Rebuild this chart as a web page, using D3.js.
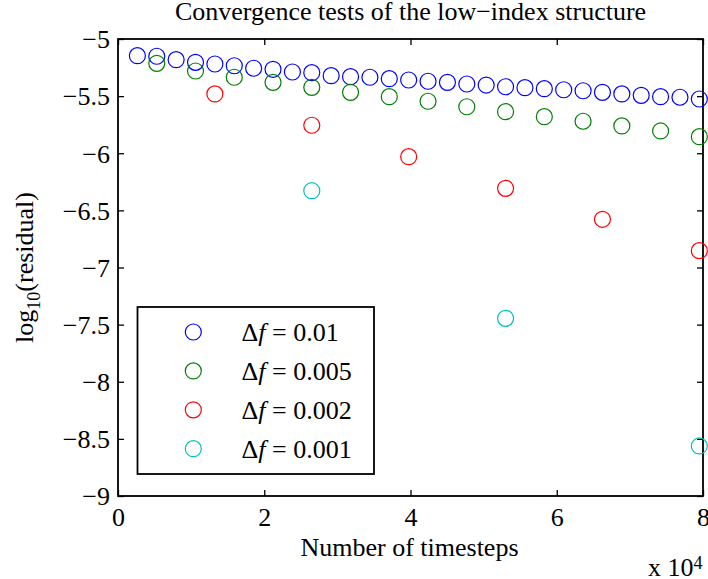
<!DOCTYPE html>
<html>
<head>
<meta charset="utf-8">
<script src="https://cdn.jsdelivr.net/npm/d3@7"></script>
<style>
  html, body { margin: 0; padding: 0; background: #fff; }
  svg { display: block; font-family: "Liberation Serif", "Times New Roman", serif; }
</style>
</head>
<body>
<svg id="chart" width="708" height="579"></svg>
<script>
// ---- data ----
const blueX = [2650, 5300, 7950, 10600, 13250, 15900, 18550, 21200, 23850, 26500,
  29150, 31800, 34450, 37100, 39750, 42400, 45050, 47700, 50350, 53000,
  55650, 58300, 60950, 63600, 66250, 68900, 71550, 74200, 76850, 79500];
const blueY = [-5.146, -5.151, -5.181, -5.204, -5.219, -5.234, -5.256, -5.265, -5.289, -5.295,
  -5.321, -5.330, -5.335, -5.347, -5.359, -5.370, -5.379, -5.394, -5.403, -5.418,
  -5.426, -5.435, -5.444, -5.453, -5.467, -5.481, -5.493, -5.505, -5.510, -5.525];
const greenX = [5300, 10600, 15900, 21200, 26500, 31800, 37100, 42400, 47700, 53000,
  58300, 63600, 68900, 74200, 79500];
const greenY = [-5.213, -5.280, -5.335, -5.379, -5.423, -5.467, -5.505, -5.545, -5.593, -5.636,
  -5.680, -5.720, -5.761, -5.805, -5.855];
const redX = [13250, 26500, 39750, 53000, 66250, 79500];
const redY = [-5.481, -5.755, -6.030, -6.307, -6.578, -6.853];
const cyanX = [26500, 53000, 79500];
const cyanY = [-6.328, -7.445, -8.562];

const seriesNames = ["0.01", "0.005", "0.002", "0.001"];
const seriesColors = ["#0000ff", "#008000", "#ff0000", "#00bfbf"];
const xTicks = [0, 20000, 40000, 60000, 80000];
const xTickLabels = ["0", "2", "4", "6", "8"];
const yTicks = [-9, -8.5, -8, -7.5, -7, -6.5, -6, -5.5, -5];
const yTickLabels = ["\u22129", "\u22128.5", "\u22128", "\u22127.5", "\u22127", "\u22126.5", "\u22126", "\u22125.5", "\u22125"];
const titleText = "Convergence tests of the low\u2212index structure";
const xLabelText = "Number of timesteps";

// ---- layout ----
const L = 118, R = 703, T = 39, B = 496;
const FS = 26;
const svg = d3.select("#chart");
const x = d3.scaleLinear().domain([0, 80000]).range([L, R]);
const y = d3.scaleLinear().domain([-9, -5]).range([B, T]);

const series = [
  {xs: blueX, ys: blueY},
  {xs: greenX, ys: greenY},
  {xs: redX, ys: redY},
  {xs: cyanX, ys: cyanY}
].map((s, i) => ({name: seriesNames[i], color: seriesColors[i],
  pts: s.xs.map((v, j) => [v, s.ys[j]])}));

// white background of axes
svg.append("rect").attr("x", L).attr("y", T).attr("width", R - L).attr("height", B - T)
  .attr("fill", "#fff");

// axes
function styleAxis(g) {
  g.select(".domain").remove();
  g.selectAll(".tick line").attr("stroke", "#000").attr("stroke-width", 1.3);
  g.selectAll("text").attr("font-size", FS).attr("font-family", "Liberation Serif").attr("fill", "#000");
}
const xFmt = (d, i) => xTickLabels[xTicks.indexOf(d)];
const yFmt = d => yTickLabels[yTicks.indexOf(d)];

const gxb = svg.append("g").attr("transform", `translate(0,${B})`)
  .call(d3.axisBottom(x).tickValues(xTicks).tickFormat(xFmt).tickSize(-6));
styleAxis(gxb);
gxb.selectAll("text").attr("y", 30).attr("dy", 0);

const gxt = svg.append("g").attr("transform", `translate(0,${T})`)
  .call(d3.axisTop(x).tickValues(xTicks).tickFormat("").tickSize(-6));
styleAxis(gxt);

const gyl = svg.append("g").attr("transform", `translate(${L},0)`)
  .call(d3.axisLeft(y).tickValues(yTicks).tickFormat(yFmt).tickSize(-6).tickPadding(8));
styleAxis(gyl);
gyl.selectAll("text").attr("x", -8).attr("dy", "0.34em");

const gyr = svg.append("g").attr("transform", `translate(${R},0)`)
  .call(d3.axisRight(y).tickValues(yTicks).tickFormat("").tickSize(-6));
styleAxis(gyr);

// box
svg.append("rect").attr("x", L).attr("y", T).attr("width", R - L).attr("height", B - T)
  .attr("fill", "none").attr("stroke", "#000").attr("stroke-width", 1.8);

// markers
series.forEach(s => {
  svg.append("g").selectAll("circle").data(s.pts).join("circle")
    .attr("cx", d => x(d[0])).attr("cy", d => y(d[1])).attr("r", 8)
    .attr("fill", "none").attr("stroke", s.color).attr("stroke-width", 1.2);
});

// title
svg.append("text").attr("x", (L + R) / 2).attr("y", 19.5).attr("text-anchor", "middle")
  .attr("font-size", FS).attr("fill", "#000").text(titleText);

// x label
svg.append("text").attr("x", 409.5).attr("y", 556).attr("text-anchor", "middle")
  .attr("font-size", FS).attr("fill", "#000").text(xLabelText);

// x exponent
const ex = svg.append("text").attr("x", 648).attr("y", 576).attr("font-size", FS).attr("fill", "#000");
ex.append("tspan").text("x 10");
ex.append("tspan").attr("font-size", 18).attr("dy", -7).text("4");

// y label
const yl = svg.append("text").attr("transform", "translate(33,267.5) rotate(-90)")
  .attr("text-anchor", "middle").attr("font-size", FS).attr("fill", "#000");
yl.append("tspan").text("log");
yl.append("tspan").attr("font-size", 18).attr("dy", 7).text("10");
yl.append("tspan").attr("dy", -7).text("(residual)");

// legend
const lg = svg.append("g");
lg.append("rect").attr("x", 137.5).attr("y", 307).attr("width", 236.5).attr("height", 167)
  .attr("fill", "#fff").attr("stroke", "#000").attr("stroke-width", 1.8);
const ly = d3.scalePoint().domain(seriesNames).range([332, 448.7]);
series.forEach(s => {
  lg.append("circle").attr("cx", 193.3).attr("cy", ly(s.name)).attr("r", 8)
    .attr("fill", "none").attr("stroke", s.color).attr("stroke-width", 1.2);
  const t = lg.append("text").attr("x", 241.5).attr("y", ly(s.name)).attr("dy", "0.35em")
    .attr("font-size", FS).attr("fill", "#000");
  t.append("tspan").text("\u0394");
  t.append("tspan").attr("font-style", "italic").text("f");
  t.append("tspan").text(" = " + s.name);
});
</script>
</body>
</html>
